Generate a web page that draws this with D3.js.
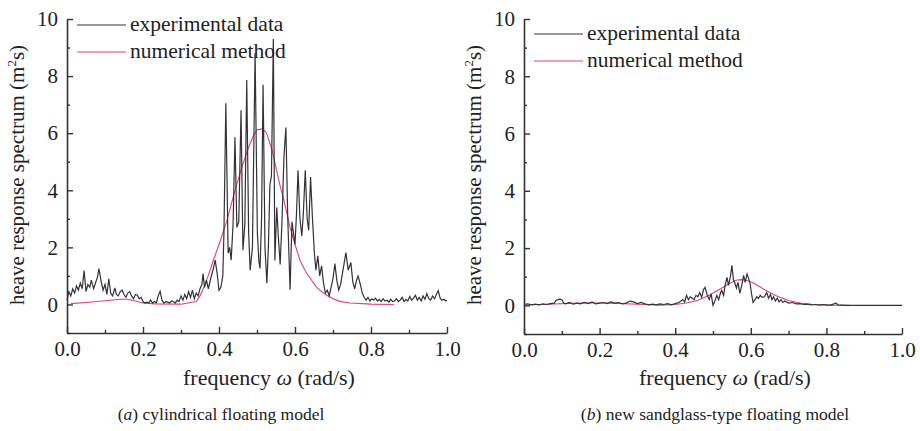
<!DOCTYPE html>
<html><head><meta charset="utf-8">
<script src="https://cdn.jsdelivr.net/npm/d3@7/dist/d3.min.js"></script>
<style>
body{margin:0;background:#fff;}
</style></head>
<body><svg id="c" width="920" height="431"></svg>
<script>
// ---------------- data ----------------
const xTicks = [0.0, 0.2, 0.4, 0.6, 0.8, 1.0];
const yTicks = [0, 2, 4, 6, 8, 10];
const legendLabels = ["experimental data", "numerical method"];
const captionA = ["(", "a", ") cylindrical floating model"];
const captionB = ["(", "b", ") new sandglass-type floating model"];

// (a) cylindrical floating model: experimental [omega, value]
const expA = [
[0.000,0.15],[0.005,0.45],[0.010,0.30],[0.015,0.55],[0.020,0.40],[0.025,0.65],[0.030,0.50],[0.035,0.75],
[0.040,0.55],[0.045,1.19],[0.050,0.45],[0.055,0.70],[0.060,0.60],[0.064,0.85],[0.070,0.55],[0.075,0.75],
[0.080,0.95],[0.084,1.26],[0.090,0.80],[0.095,0.50],[0.100,0.70],[0.105,0.35],[0.110,0.90],[0.115,0.40],
[0.120,0.30],[0.126,0.58],[0.130,0.35],[0.135,0.30],[0.140,0.45],[0.145,0.50],[0.150,0.35],[0.155,0.25],
[0.160,0.40],[0.165,0.45],[0.170,0.30],[0.175,0.20],[0.180,0.35],[0.185,0.32],[0.190,0.20],[0.195,0.25],
[0.200,0.10],[0.205,0.05],[0.210,0.08],[0.215,0.05],[0.220,0.15],[0.225,0.05],[0.230,0.10],[0.235,0.05],
[0.240,0.30],[0.245,0.46],[0.250,0.15],[0.255,0.05],[0.260,0.10],[0.265,0.08],[0.270,0.05],[0.275,0.12],
[0.280,0.10],[0.285,0.05],[0.290,0.15],[0.295,0.10],[0.300,0.30],[0.305,0.15],[0.310,0.35],[0.315,0.20],
[0.320,0.45],[0.325,0.25],[0.330,0.50],[0.335,0.20],[0.340,0.40],[0.345,0.30],[0.350,0.55],[0.355,0.70],
[0.358,1.08],[0.362,0.60],[0.367,0.85],[0.372,0.55],[0.378,0.90],[0.384,1.20],[0.390,1.55],[0.395,1.10],
[0.400,0.50],[0.405,0.60],[0.410,1.00],[0.413,2.50],[0.418,7.05],[0.424,1.80],[0.428,2.00],[0.432,1.55],
[0.437,2.80],[0.442,5.86],[0.447,2.70],[0.452,2.90],[0.458,6.80],[0.463,1.90],[0.468,2.80],[0.473,7.86],
[0.478,2.50],[0.482,1.20],[0.488,2.00],[0.495,8.80],[0.501,2.50],[0.505,1.50],[0.508,1.26],[0.512,3.00],
[0.516,7.70],[0.521,2.00],[0.526,0.74],[0.530,2.00],[0.534,4.20],[0.538,4.50],[0.543,9.30],[0.547,1.54],
[0.552,3.40],[0.556,2.40],[0.561,1.40],[0.566,3.00],[0.571,5.20],[0.576,6.20],[0.581,3.00],[0.587,0.52],
[0.592,2.90],[0.596,2.50],[0.600,2.10],[0.604,3.20],[0.608,4.70],[0.613,3.00],[0.618,2.40],[0.622,3.20],
[0.627,4.70],[0.632,3.00],[0.636,2.60],[0.641,4.46],[0.646,3.00],[0.651,1.80],[0.655,1.20],[0.660,1.70],
[0.665,1.00],[0.670,1.35],[0.675,0.75],[0.680,0.40],[0.685,0.50],[0.690,0.30],[0.695,0.60],[0.700,0.90],
[0.705,1.43],[0.710,0.85],[0.715,0.50],[0.720,0.70],[0.725,1.10],[0.730,1.50],[0.734,1.82],[0.740,1.20],
[0.747,1.47],[0.752,0.80],[0.757,0.55],[0.762,0.85],[0.766,1.00],[0.772,0.70],[0.777,0.40],[0.782,0.25],
[0.787,0.15],[0.792,0.25],[0.797,0.12],[0.802,0.20],[0.807,0.15],[0.812,0.22],[0.817,0.12],[0.822,0.18],
[0.827,0.10],[0.832,0.20],[0.837,0.12],[0.842,0.15],[0.847,0.08],[0.852,0.18],[0.857,0.10],[0.862,0.12],
[0.867,0.20],[0.872,0.10],[0.877,0.15],[0.882,0.25],[0.887,0.10],[0.892,0.18],[0.897,0.12],[0.902,0.28],
[0.907,0.15],[0.912,0.22],[0.917,0.32],[0.922,0.15],[0.927,0.25],[0.932,0.12],[0.937,0.30],[0.942,0.18],
[0.947,0.38],[0.952,0.20],[0.957,0.15],[0.962,0.30],[0.967,0.20],[0.972,0.35],[0.977,0.48],[0.982,0.22],
[0.987,0.15],[0.992,0.18],[0.997,0.12],[1.000,0.15]
];
// (a) numerical method
const numA = [
[0.01,0.03],[0.05,0.07],[0.10,0.13],[0.14,0.18],[0.16,0.18],[0.18,0.12],[0.20,0.05],[0.23,0.02],
[0.30,0.01],[0.34,0.10],[0.35,0.30],[0.36,0.60],[0.37,0.95],[0.385,1.54],[0.40,2.10],[0.42,2.90],
[0.44,3.90],[0.46,4.80],[0.475,5.40],[0.49,5.90],[0.50,6.12],[0.515,6.15],[0.525,6.00],[0.54,5.40],
[0.56,4.20],[0.57,3.70],[0.587,2.70],[0.60,2.10],[0.613,1.55],[0.63,1.10],[0.657,0.60],[0.68,0.35],
[0.70,0.20],[0.72,0.10],[0.745,0.05],[0.80,0.01],[0.86,0.00]
];
// (b) new sandglass-type floating model: experimental
const expB = [
[0.000,0.03],[0.010,0.05],[0.020,0.02],[0.030,0.04],[0.040,0.02],[0.050,0.05],[0.060,0.03],[0.070,0.06],
[0.080,0.08],[0.085,0.18],[0.090,0.20],[0.095,0.22],[0.100,0.20],[0.105,0.08],[0.110,0.05],[0.120,0.10],
[0.130,0.04],[0.140,0.08],[0.150,0.05],[0.160,0.10],[0.170,0.06],[0.180,0.12],[0.190,0.05],[0.200,0.08],
[0.210,0.10],[0.220,0.06],[0.230,0.12],[0.240,0.08],[0.250,0.10],[0.260,0.05],[0.270,0.08],[0.280,0.15],
[0.290,0.12],[0.300,0.06],[0.310,0.10],[0.320,0.05],[0.330,0.02],[0.340,0.04],[0.350,0.02],[0.360,0.05],
[0.370,0.03],[0.380,0.06],[0.390,0.02],[0.400,0.06],[0.410,0.10],[0.420,0.20],[0.425,0.12],[0.430,0.35],
[0.435,0.20],[0.440,0.30],[0.445,0.25],[0.450,0.20],[0.455,0.35],[0.460,0.30],[0.465,0.45],[0.470,0.28],
[0.475,0.55],[0.479,0.63],[0.485,0.35],[0.490,0.20],[0.495,0.40],[0.500,0.00],[0.505,0.15],[0.510,0.35],
[0.515,0.20],[0.520,0.45],[0.523,0.52],[0.528,0.35],[0.532,0.70],[0.537,0.98],[0.541,0.70],[0.546,1.00],
[0.550,1.40],[0.554,0.90],[0.558,0.77],[0.562,0.60],[0.566,0.80],[0.571,0.42],[0.576,0.70],[0.581,1.05],
[0.585,0.80],[0.590,1.10],[0.594,0.95],[0.598,0.77],[0.602,0.40],[0.606,0.10],[0.611,0.20],[0.616,0.30],
[0.620,0.24],[0.625,0.35],[0.630,0.28],[0.636,0.30],[0.642,0.45],[0.647,0.25],[0.652,0.38],[0.656,0.20],
[0.660,0.30],[0.665,0.15],[0.670,0.25],[0.675,0.12],[0.680,0.20],[0.685,0.10],[0.690,0.15],[0.700,0.08],
[0.710,0.10],[0.720,0.05],[0.730,0.06],[0.740,0.03],[0.750,0.04],[0.760,0.02],[0.770,0.03],[0.780,0.01],
[0.790,0.03],[0.800,0.02],[0.810,0.01],[0.820,0.05],[0.825,0.08],[0.830,0.02],[0.840,0.01],[0.850,0.00],
[0.900,0.00],[0.950,0.00],[1.000,0.00]
];
// (b) numerical method
const numB = [
[0.02,0.02],[0.05,0.03],[0.08,0.05],[0.12,0.07],[0.16,0.08],[0.20,0.08],[0.25,0.07],[0.30,0.04],
[0.33,0.02],[0.36,0.01],[0.40,0.03],[0.43,0.08],[0.46,0.18],[0.49,0.35],[0.52,0.58],[0.54,0.74],
[0.56,0.88],[0.575,0.90],[0.59,0.87],[0.61,0.76],[0.63,0.60],[0.65,0.45],[0.67,0.32],[0.70,0.17],
[0.73,0.08],[0.76,0.04],[0.80,0.01],[0.86,0.00]
];

// ---------------- drawing ----------------
const FONT = "'Liberation Serif', 'DejaVu Serif', serif";
const svg = d3.select("#c").attr("font-family", FONT);
const RED = "#e2426e", BLK = "#333";

function panel(o) {
  const x = d3.scaleLinear().domain([0, 1]).range([o.x0, o.x1]);
  const y = d3.scaleLinear().domain([-1, 10]).range([o.yb, o.yt]);
  const g = svg.append("g").attr("font-family", FONT);

  const xMinor = [0.1, 0.3, 0.5, 0.7, 0.9];
  const yMinor = [-1, 1, 3, 5, 7, 9];
  // x axis
  const xa = g.append("g").attr("transform", `translate(0,${o.yb})`)
    .call(d3.axisBottom(x).tickValues(xTicks).tickFormat(d3.format(".1f")).tickSizeInner(-6).tickSizeOuter(0).tickPadding(8));
  xa.attr("font-family", FONT);
  xa.select(".domain").attr("stroke", BLK).attr("stroke-width", 1.6);
  xa.selectAll(".tick line").attr("stroke", BLK).attr("stroke-width", 1.4);
  xa.selectAll(".tick text").attr("font-size", 21).attr("fill", "#222").attr("font-family", FONT);
  g.append("g").attr("transform", `translate(0,${o.yb})`)
    .call(d3.axisBottom(x).tickValues(xMinor).tickFormat("").tickSizeInner(-3).tickSizeOuter(0))
    .call(s => { s.select(".domain").remove(); s.selectAll("line").attr("stroke", BLK).attr("stroke-width", 1.4); });
  // y axis
  const ya = g.append("g").attr("transform", `translate(${o.x0},0)`)
    .call(d3.axisLeft(y).tickValues(yTicks).tickSizeInner(-6).tickSizeOuter(0).tickPadding(9));
  ya.attr("font-family", FONT);
  ya.select(".domain").attr("stroke", BLK).attr("stroke-width", 1.6);
  ya.selectAll(".tick line").attr("stroke", BLK).attr("stroke-width", 1.4);
  ya.selectAll(".tick text").attr("font-size", 21).attr("fill", "#222").attr("font-family", FONT);
  g.append("g").attr("transform", `translate(${o.x0},0)`)
    .call(d3.axisLeft(y).tickValues(yMinor).tickFormat("").tickSizeInner(-3).tickSizeOuter(0))
    .call(s => { s.select(".domain").remove(); s.selectAll("line").attr("stroke", BLK).attr("stroke-width", 1.4); });

  const line = d3.line().x(d => x(d[0])).y(d => y(d[1]));
  g.append("path").datum(o.num).attr("d", line).attr("fill", "none").attr("stroke", RED).attr("stroke-width", 1.1);
  g.append("path").datum(o.exp).attr("d", line).attr("fill", "none").attr("stroke", "#333").attr("stroke-width", 1.2);

  // legend
  const colors = [BLK, RED];
  legendLabels.forEach((t, i) => {
    const ly = o.legY + i * 27;
    g.append("line").attr("x1", o.x0 + 10).attr("x2", o.x0 + 59).attr("y1", ly).attr("y2", ly)
      .attr("stroke", colors[i]).attr("stroke-width", 1.2);
    g.append("text").attr("x", o.x0 + 63).attr("y", ly + 6).attr("font-size", 21.5)
      .attr("font-family", FONT).attr("fill", "#222").text(t);
  });

  // axis titles
  const xt = g.append("text").attr("x", (o.x0 + o.x1) / 2 + 12).attr("y", 385).attr("text-anchor", "middle")
    .attr("font-size", 22).attr("font-family", FONT).attr("fill", "#222");
  xt.append("tspan").text("frequency ");
  xt.append("tspan").attr("font-style", "italic").text("ω");
  xt.append("tspan").text(" (rad/s)");

  const yt = g.append("text").attr("transform", `translate(${o.x0 - 43},175) rotate(-90)`)
    .attr("text-anchor", "middle").attr("font-size", 21).attr("font-family", FONT).attr("fill", "#222");
  yt.append("tspan").text("heave response spectrum (m");
  yt.append("tspan").attr("font-size", 13).attr("dy", -8).text("2");
  yt.append("tspan").attr("dy", 8).text("s)");

  // caption
  const ct = g.append("text").attr("x", o.capX).attr("y", 420).attr("text-anchor", "middle")
    .attr("font-size", 17.5).attr("font-family", FONT).attr("fill", "#222");
  ct.append("tspan").text(o.cap[0]);
  ct.append("tspan").attr("font-style", "italic").text(o.cap[1]);
  ct.append("tspan").text(o.cap[2]);
}

panel({x0: 67, x1: 447, yt: 19, yb: 333, exp: expA, num: numA, legY: 25, capX: 221, cap: captionA});
panel({x0: 524, x1: 902, yt: 19, yb: 334, exp: expB, num: numB, legY: 34, capX: 715, cap: captionB});
</script></body></html>
